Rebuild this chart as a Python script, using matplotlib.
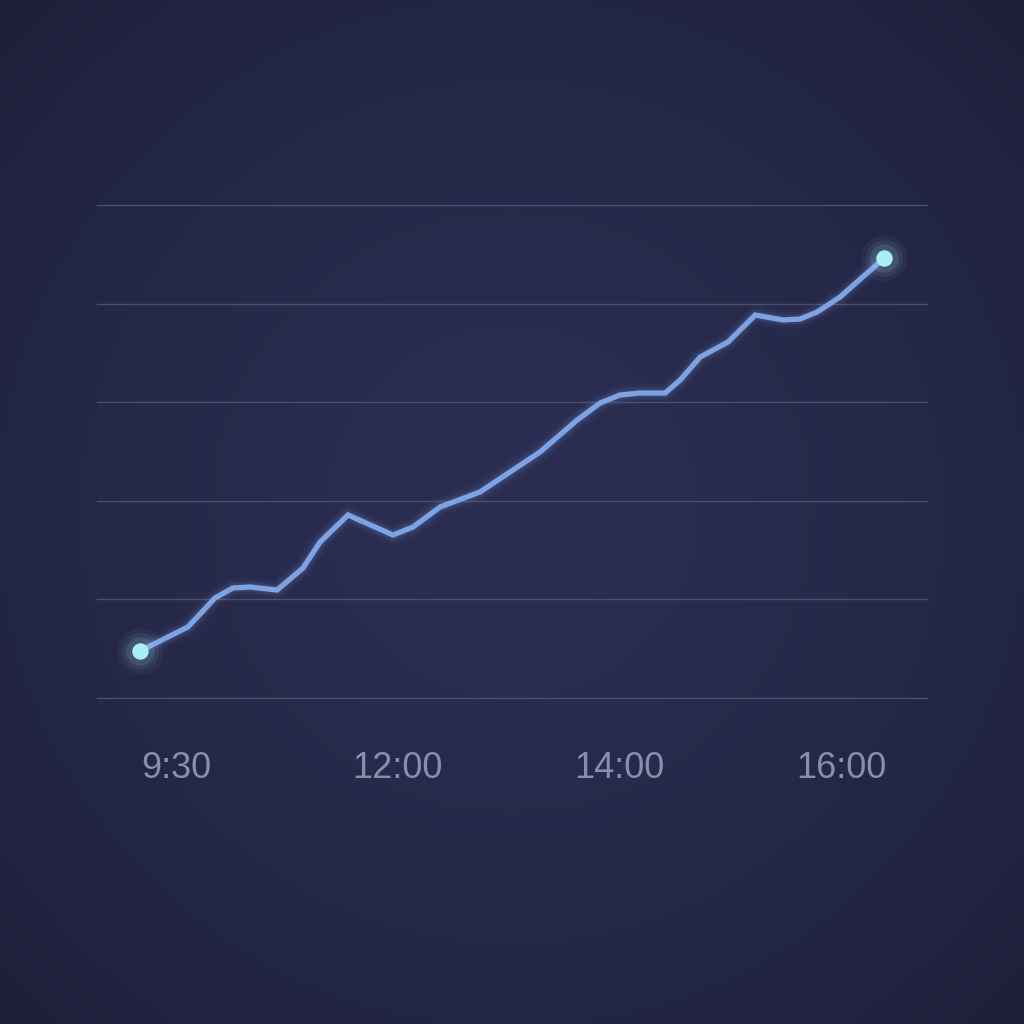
import numpy as np
import matplotlib.pyplot as plt

# tick labels (evenly spaced along the axis)
tick_labels = ["9:30", "12:00", "14:00", "16:00"]
tick_pos = [0, 1, 2, 3]

# price path, x in tick units, y in grid units (0..5)
xs = [-0.162, 0.054, 0.176, 0.257, 0.334, 0.456, 0.573, 0.650, 0.776,
      0.979, 1.069, 1.191, 1.371, 1.642, 1.809, 1.913, 2.003, 2.093,
      2.206, 2.274, 2.364, 2.490, 2.612, 2.738, 2.815, 2.892, 2.995,
      3.117, 3.194]
ys = [0.477, 0.720, 1.014, 1.116, 1.126, 1.095, 1.318, 1.582, 1.856,
      1.653, 1.734, 1.937, 2.089, 2.495, 2.819, 2.992, 3.073, 3.093,
      3.093, 3.225, 3.458, 3.611, 3.884, 3.834, 3.844, 3.915, 4.067,
      4.310, 4.462]

W, H = 1024, 1024
fig = plt.figure(figsize=(W / 100, H / 100), dpi=100)

# background with soft vignette
bg = fig.add_axes([0, 0, 1, 1])
yy, xx = np.mgrid[0:1:256j, 0:1:256j]
r = np.sqrt((xx - 0.5) ** 2 + (yy - 0.5) ** 2) / 0.707
c_in = np.array([0x2b, 0x2e, 0x52]) / 255
c_out = np.array([0x1d, 0x1f, 0x3a]) / 255
t = np.clip(r, 0, 1)[..., None] ** 1.5
img = c_in * (1 - t) + c_out * t
bg.imshow(img, extent=[0, 1, 0, 1], aspect="auto", interpolation="bilinear")
bg.axis("off")

x0, x1 = 97 / W, 927 / W
y0, y1 = 1 - 698 / H, 1 - 205 / H
ax = fig.add_axes([x0, y0, x1 - x0, y1 - y0])
ax.patch.set_alpha(0)
ax.set_xlim(-0.356, 3.387)
ax.set_ylim(0, 5)

for v in range(6):
    ax.axhline(v, color="#4b4e6c", linewidth=1.0, zorder=1, clip_on=False)

# glow under the line
for lw, a in [(14, 0.04), (10, 0.06), (7, 0.10)]:
    ax.plot(xs, ys, color="#7fa6ea", linewidth=lw, alpha=a,
            solid_joinstyle="round", solid_capstyle="round", zorder=2)
ax.plot(xs, ys, color="#7ea2e2", linewidth=3.8,
        solid_joinstyle="miter", solid_capstyle="round", zorder=3)

# glowing end points
ends_x = [xs[0], xs[-1]]
ends_y = [ys[0], ys[-1]]
for s, a in [(1100, 0.05), (700, 0.08), (420, 0.13)]:
    ax.scatter(ends_x, ends_y, s=s, color="#9fe6f5", alpha=a,
               linewidths=0, zorder=4, clip_on=False)
ax.scatter(ends_x, ends_y, s=140, color="#aaeef6", linewidths=0,
           zorder=5, clip_on=False)

ax.set_xticks(tick_pos)
ax.set_xticklabels(tick_labels, fontsize=26, color="#8a8eae",
                   family=["Liberation Sans", "DejaVu Sans"])
ax.tick_params(axis="x", length=0, pad=38)
ax.set_yticks([])
for sp in ax.spines.values():
    sp.set_visible(False)

fig.savefig("out.png", dpi=100)
